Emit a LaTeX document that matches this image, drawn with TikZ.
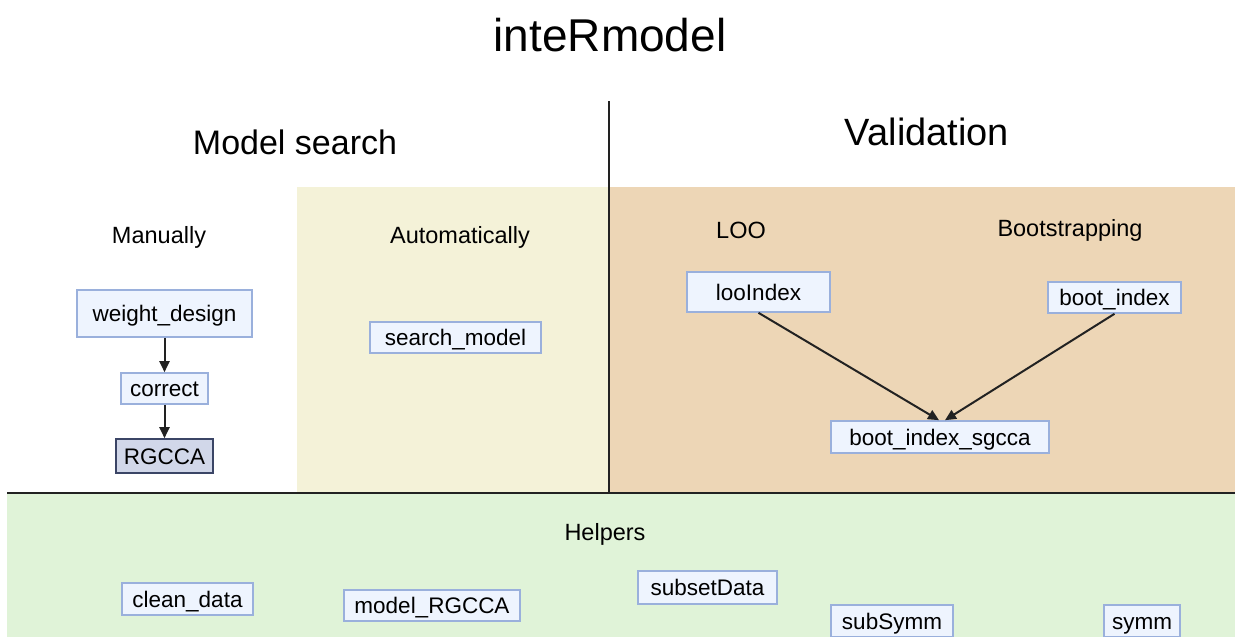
\documentclass[tikz,border=0pt]{standalone}
\usepackage{fontspec}
\setmainfont{Liberation Sans}
\usetikzlibrary{arrows.meta}
\definecolor{autofill}{HTML}{F4F2D8}
\definecolor{valfill}{HTML}{EDD6B6}
\definecolor{helpfill}{HTML}{E0F3D8}
\definecolor{fnfill}{HTML}{EEF4FE}
\definecolor{fnline}{HTML}{9AB0DC}
\definecolor{corefill}{HTML}{D1D7E9}
\definecolor{coreline}{HTML}{3B4566}
\definecolor{ink}{HTML}{222222}
\tikzset{
  fnbox/.style={draw=fnline, fill=fnfill, line width=1.6pt, inner sep=0pt,
    font=\fontsize{22.5}{26}\selectfont, text height=19pt, text depth=3pt},
  corebox/.style={fnbox, draw=coreline, fill=corefill},
  sublabel/.style={font=\fontsize{23.5}{28}\selectfont, inner sep=0pt},
  heading/.style={font=\fontsize{34}{40}\selectfont, inner sep=0pt},
  flow/.style={draw=ink, line width=2pt, -{Triangle[length=11pt,width=10pt]}},
  divider/.style={draw=ink, line width=2pt}
}
\begin{document}
\begin{tikzpicture}[x=1pt,y=-1pt]
\useasboundingbox (0,0) rectangle (1235,637);
% panels
\fill[autofill] (297,187) rectangle (609,493);
\fill[valfill] (609,187) rectangle (1235,493);
\fill[helpfill] (7,493) rectangle (1235,637);
\draw[divider] (609,101) -- (609,493);
\draw[divider] (7,493) -- (1235,493);

% headings
\node[font=\fontsize{46}{52}\selectfont, inner sep=0pt] (title) at (610,35) {inteRmodel};
\node[heading] (msearch) at (295,142) {Model search};
\node[heading, font=\fontsize{38}{44}\selectfont] (valid) at (927,132) {Validation};
\node[sublabel] (manual) at (159,237) {Manually};
\node[sublabel] (auto) at (460,237) {Automatically};
\node[sublabel] (loo) at (741,230) {LOO};
\node[sublabel] (boot) at (1070,230) {Bootstrapping};
\node[sublabel] (helpers) at (605,534) {Helpers};

% functions: manual search
\node[fnbox, minimum width=175pt, minimum height=47pt] (wd) at (164.5,313.5) {weight\_design};
\node[fnbox, minimum width=87pt, minimum height=31pt] (corr) at (164.5,388.5) {correct};
\node[corebox, minimum width=97pt, minimum height=34pt] (rgcca) at (164.5,456) {RGCCA};
\draw[flow] (wd) -- (corr);
\draw[flow] (corr) -- (rgcca);

% functions: automatic search
\node[fnbox, minimum width=171pt, minimum height=31pt] (search) at (455.5,337.5) {search\_model};

% functions: validation
\node[fnbox, minimum width=143pt, minimum height=40pt] (looidx) at (758.5,292) {looIndex};
\node[fnbox, minimum width=133pt, minimum height=31pt] (bootidx) at (1114.5,297.5) {boot\_index};
\node[fnbox, minimum width=218pt, minimum height=32pt] (sgcca) at (940,437) {boot\_index\_sgcca};
\coordinate (inL) at ([xshift=-1pt]sgcca.north);
\coordinate (inR) at ([xshift=5pt]sgcca.north);
\draw[flow] (looidx.south) -- (inL);
\draw[flow] (bootidx.south) -- (inR);

% helpers
\node[fnbox, minimum width=131pt, minimum height=32pt] (clean) at (187.5,599) {clean\_data};
\node[fnbox, minimum width=176pt, minimum height=31pt] (mrgcca) at (432,605.5) {model\_RGCCA};
\node[fnbox, minimum width=139pt, minimum height=33pt] (subset) at (707.5,587.5) {subsetData};
\node[fnbox, minimum width=122pt, minimum height=32pt] (subsymm) at (892,621) {subSymm};
\node[fnbox, minimum width=76pt, minimum height=32pt] (symm) at (1142,621) {symm};
\end{tikzpicture}
\end{document}
